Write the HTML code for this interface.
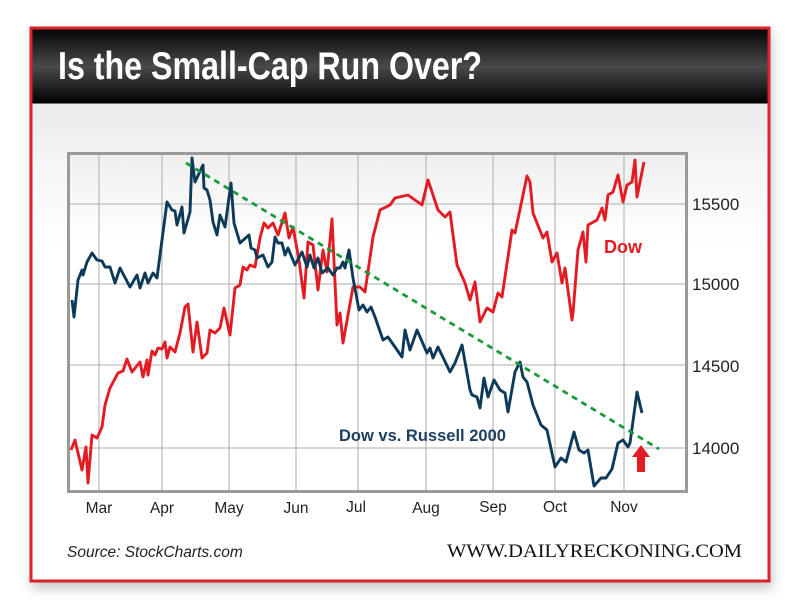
<!DOCTYPE html>
<html><head><meta charset="utf-8"><style>
html,body{margin:0;padding:0;background:#fff;}
svg{display:block;}
</style></head><body>
<svg width="800" height="611" viewBox="0 0 800 611" xmlns="http://www.w3.org/2000/svg">
<defs>
<linearGradient id="hdr" x1="0" y1="0" x2="0" y2="1">
<stop offset="0" stop-color="#050505"/><stop offset="0.5" stop-color="#4a4a4c"/><stop offset="1" stop-color="#000"/>
</linearGradient>
<linearGradient id="body" x1="0" y1="0" x2="0" y2="1">
<stop offset="0" stop-color="#dcdde0"/><stop offset="0.25" stop-color="#f6f6f7"/><stop offset="0.4" stop-color="#fff"/>
</linearGradient>
<linearGradient id="plot" x1="0" y1="0" x2="0" y2="1">
<stop offset="0" stop-color="#eeeeef"/><stop offset="0.25" stop-color="#fff"/>
</linearGradient>
<filter id="sh" x="-5%" y="-5%" width="110%" height="115%"><feGaussianBlur stdDeviation="6"/></filter>
</defs>
<rect x="32" y="32" width="740" height="556" fill="#888" opacity="0.5" filter="url(#sh)"/>
<rect x="31" y="28" width="738" height="553" fill="url(#body)" stroke="#d9222a" stroke-width="3"/>
<rect x="32.5" y="29.5" width="735" height="74" fill="url(#hdr)"/>
<text x="58" y="79" font-family="Liberation Sans Narrow, Liberation Sans, sans-serif" font-weight="bold" font-size="39" fill="#fff" textLength="424" lengthAdjust="spacingAndGlyphs">Is the Small-Cap Run Over?</text>
<rect x="68" y="153" width="619" height="339" fill="url(#plot)"/>
<g stroke="#bdbdbd" stroke-width="1.3">
<line x1="99" y1="153" x2="99" y2="492"/><line x1="162" y1="153" x2="162" y2="492"/><line x1="229" y1="153" x2="229" y2="492"/><line x1="296" y1="153" x2="296" y2="492"/><line x1="358" y1="153" x2="358" y2="492"/><line x1="426" y1="153" x2="426" y2="492"/><line x1="493" y1="153" x2="493" y2="492"/><line x1="555" y1="153" x2="555" y2="492"/><line x1="624" y1="153" x2="624" y2="492"/>
<line x1="68" y1="204" x2="687" y2="204"/><line x1="68" y1="284" x2="687" y2="284"/><line x1="68" y1="365" x2="687" y2="365"/><line x1="68" y1="448" x2="687" y2="448"/>
</g>
<rect x="68.5" y="153.5" width="618" height="338" fill="none" stroke="#9a9a9a" stroke-width="3"/>
<polyline fill="none" stroke="#e31b23" stroke-width="2.9" stroke-linejoin="round" points="71,450 75,440 82,470 86,447 88,483 92,435 97,438 102,427 105,405 110,388 118,373 123,371 127,359 132,372 140,362 143,377 147,360 148,375 152,351 155,355 158,348 162,349 165,342 167,358 170,347 175,352 180,333 185,307 188,304 193,352 197,322 202,358 207,353 210,330 215,333 220,328 224,308 230,335 235,288 240,285 243,267 247,270 250,265 255,267 260,238 264,223 268,228 273,223 278,235 285,213 289,238 293,227 299,260 304,298 308,242 313,245 318,290 323,250 327,272 332,219 337,325 340,313 343,343 353,287 360,287 365,292 373,237 380,210 390,205 395,198 408,195 422,205 428,180 438,210 445,217 450,212 457,265 465,283 470,300 475,282 480,322 487,308 493,312 498,293 502,297 512,230 515,233 527,176 530,182 533,213 543,238 547,232 552,262 557,253 562,283 565,268 572,320 573,313 578,250 583,232 586,262 588,225 597,220 602,208 605,220 608,195 613,192 618,175 623,202 627,185 632,182 635,160 637,197 644,162"/>
<polyline fill="none" stroke="#0e3a5a" stroke-width="2.9" stroke-linejoin="round" points="72,300 74,317 78,280 82,270 83,275 87,262 92,253 97,260 102,261 105,267 110,267 115,283 120,268 130,287 137,275 140,288 145,273 148,283 153,273 157,278 167,202 172,210 175,211 177,225 182,207 184,233 190,212 192,158 195,182 203,165 204,188 207,190 210,200 213,222 217,235 220,215 225,227 231,183 234,223 240,243 249,235 251,248 255,250 257,258 263,255 268,267 272,262 275,237 278,243 282,243 285,255 288,248 295,265 302,252 307,267 310,255 314,268 318,258 322,273 328,268 333,275 337,268 340,268 343,262 345,268 349,250 353,278 359,310 363,305 367,312 371,307 375,317 383,340 388,337 402,357 405,330 410,350 417,330 427,353 430,348 433,358 438,347 450,372 455,363 462,345 470,390 472,395 477,397 480,408 484,378 488,397 494,380 500,390 505,393 508,412 515,372 520,362 523,377 527,382 533,405 541,425 547,430 555,467 561,458 566,462 574,432 579,450 584,453 588,450 594,486 601,478 606,478 612,469 618,443 623,440 628,447 630,443 637,392 642,413"/>
<line x1="186" y1="163" x2="659" y2="449" stroke="#1a9a3a" stroke-width="2.8" stroke-dasharray="6,5"/>
<polygon points="641,445 650,457 645,457 645,472 637,472 637,457 632,457" fill="#e31b23"/>
<text x="604" y="253" font-family="Liberation Sans, sans-serif" font-weight="bold" font-size="18" fill="#e31b23">Dow</text>
<text x="339" y="441" font-family="Liberation Sans, sans-serif" font-weight="bold" font-size="16.5" fill="#1d4060">Dow vs. Russell 2000</text>
<g font-family="Liberation Sans, sans-serif" font-size="17" fill="#222">
<text x="692" y="210">15500</text><text x="692" y="290">15000</text><text x="692" y="372">14500</text><text x="692" y="454">14000</text>
</g>
<g font-family="Liberation Sans, sans-serif" font-size="15.5" fill="#222" text-anchor="middle">
<text x="99" y="513">Mar</text><text x="162" y="513">Apr</text><text x="229" y="513">May</text><text x="296" y="513">Jun</text><text x="356" y="512">Jul</text><text x="426" y="513">Aug</text><text x="493" y="512">Sep</text><text x="555" y="512">Oct</text><text x="624" y="512">Nov</text>
</g>
<text x="67" y="557" font-family="Liberation Sans, sans-serif" font-style="italic" font-size="15.5" fill="#222">Source: StockCharts.com</text>
<text x="447" y="557" font-family="Liberation Serif, serif" font-size="19" fill="#111" textLength="295" lengthAdjust="spacingAndGlyphs">WWW.DAILYRECKONING.COM</text>
</svg>
</body></html>
